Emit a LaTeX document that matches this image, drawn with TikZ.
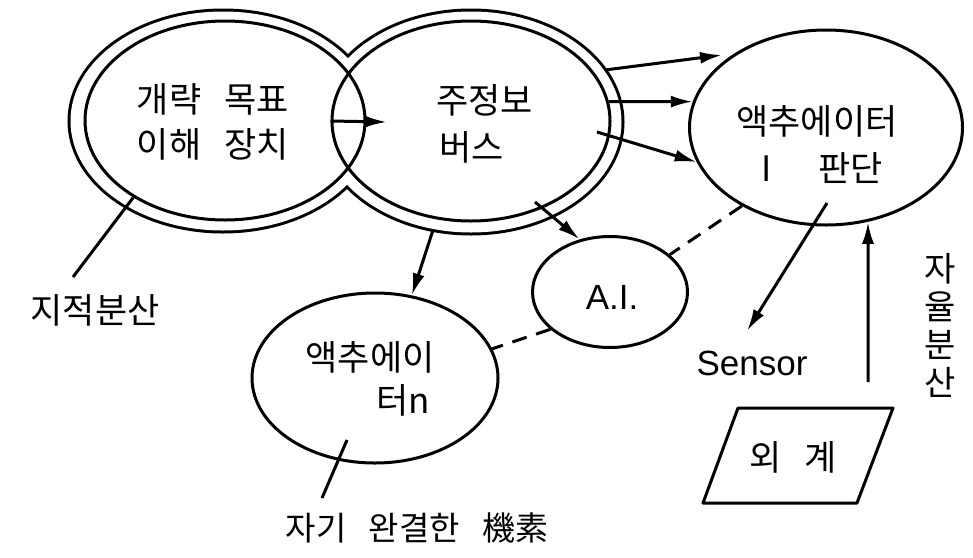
\documentclass[tikz,border=0pt]{standalone}
\usepackage{fontspec}
\setmainfont{Liberation Sans}
\newfontfamily\kr[WordSpace=2.6]{Noto Sans CJK KR}
\newfontfamily\krw[WordSpace=3.0]{Noto Sans CJK KR}
\usetikzlibrary{shapes.geometric,arrows.meta}
\begin{document}
\begin{tikzpicture}[x=1pt,y=-1pt,
  kt/.style={font=\fontsize{35}{45}\selectfont\kr, inner sep=0},
  lt/.style={font=\fontsize{35}{42}\selectfont\rmfamily, inner sep=0},
  ell/.style={ellipse, draw, line width=3pt, inner sep=0},
  arr/.style={line width=3pt, -{Latex[length=22pt,width=12pt]}},
  ptr/.style={line width=3pt},
  dsh/.style={line width=3pt, dash pattern=on 15pt off 10pt},
]
\useasboundingbox (0,0) rectangle (973,557);
% outer contour of the two joined rings
\draw[line width=6pt] (223,121) ellipse [x radius=152.5pt, y radius=109.5pt]
                      (471,122) ellipse [x radius=150.5pt, y radius=110.5pt];
\fill[white] (223,121) ellipse [x radius=152.5pt, y radius=109.5pt]
             (471,122) ellipse [x radius=150.5pt, y radius=110.5pt];
% inner ellipses
\node[ell, minimum width=280pt, minimum height=199pt] (goal) at (225,120.5) {};
\node[ell, minimum width=278pt, minimum height=200pt] (bus) at (471,121) {};
\node[ell, minimum width=273pt, minimum height=195pt] (act1) at (826,127.5) {};
\node[ell, minimum width=155pt, minimum height=111pt] (ai) at (610,292) {};
\node[ell, minimum width=246pt, minimum height=170pt] (actn) at (375,378) {};

% texts
\node[kt, align=center] (goaltxt) at (213,122) {개략 목표\\이해 장치};
\node[kt, align=left, anchor=west, font=\fontsize{35}{47}\selectfont\kr] (bustxt) at (436,124) {주정보\\\hspace{3pt}버스};
\node[kt] (act1txt) at (817,121) {액추에이터};
\node[kt] (act1sub) at (822,168) {I~~판단};
\node[lt] (aitxt) at (612,297) {A.I.};
\node[kt] (actntxt) at (370,357) {액추에이};
\node[kt] (actntxt2) at (403,400) {터n};
\node[kt] (lbl1) at (95,310) {지적분산};
\node[kt, font=\fontsize{33}{40}\selectfont\krw] (lbl2) at (417,528) {자기 완결한 機素};
\node[lt] (sensor) at (752,363) {Sensor};
\node[kt, align=center, font=\fontsize{34}{38}\selectfont\kr] (lbl3) at (940,325) {자\\율\\분\\산};
\node[kt] (env) at (793,457) {외 계};
\draw[line width=3pt, line join=round] (738,408) -- (893,408) -- (857,503) -- (703,503) -- cycle;

% named free ends
\coordinate (lensend) at (387,122);
\coordinate (a1s) at (605,70);
\coordinate (a1e) at (722,55);
\coordinate (a3s) at (597,132);
\coordinate (ais) at (535,202);
\coordinate (ans) at (433,230);
\coordinate (sens) at (827,203);
\coordinate (sene) at (747,331);
\coordinate (ups) at (868,382);
\coordinate (p1s) at (73,277);
\coordinate (p2s) at (322,498);
\coordinate (p2e) at (347,440);

% connectors
\draw[arr] (bus.180) -- (lensend);
\draw[arr] (a1s) -- (a1e);
\draw[arr] (bus.8) -- (act1.169.2);
\draw[arr] (a3s) -- (act1.195.2);
\draw[arr] (ais) -- (ai.120.6);
\draw[arr] (ans) -- (actn.66.7);
\draw[arr] (sens) -- (sene);
\draw[arr] (ups) -- (act1.294.4);
\draw[dsh] (act1.223) -- (ai.32.8);
\draw[dsh] (ai.212.3) -- (actn.14.7);
\draw[ptr] (p1s) -- (goal.220.8);
\draw[ptr] (p2s) -- (p2e);
\end{tikzpicture}
\end{document}
